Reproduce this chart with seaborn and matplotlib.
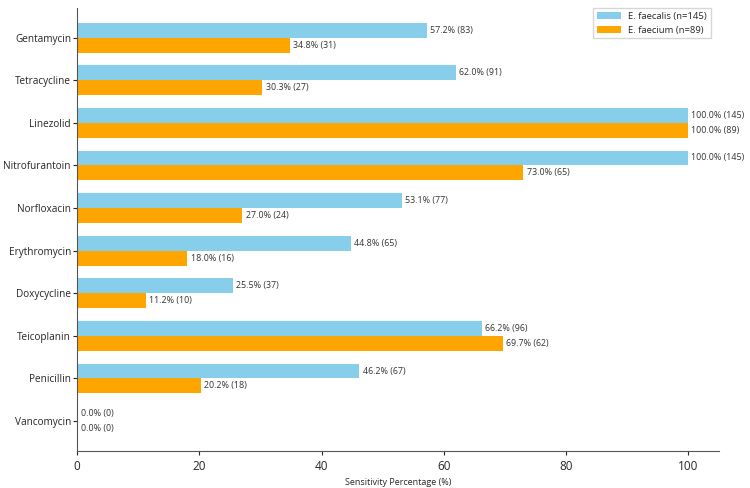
import numpy as np
import pandas as pd
import matplotlib
matplotlib.use('Agg')
import matplotlib.pyplot as plt
import seaborn as sns

# ===== data =====
antibiotics = ['Gentamycin', 'Tetracycline', 'Linezolid', 'Nitrofurantoin', 'Norfloxacin',
               'Erythromycin', 'Doxycycline', 'Teicoplanin', 'Penicillin', 'Vancomycin']
faecalis_pct = [57.2, 62.0, 100.0, 100.0, 53.1, 44.8, 25.5, 66.2, 46.2, 0.0]
faecalis_n = [83, 91, 145, 145, 77, 65, 37, 96, 67, 0]
faecium_pct = [34.8, 30.3, 100.0, 73.0, 27.0, 18.0, 11.2, 69.7, 20.2, 0.0]
faecium_n = [31, 27, 89, 65, 24, 16, 10, 62, 18, 0]
groups = ['E. faecalis (n=145)', 'E. faecium (n=89)']

df = pd.DataFrame({
    'antibiotic': antibiotics * 2,
    'pct': faecalis_pct + faecium_pct,
    'n': faecalis_n + faecium_n,
    'group': [groups[0]] * len(antibiotics) + [groups[1]] * len(antibiotics),
})

sns.set_style('white')
plt.rcParams['font.family'] = ['Open Sans', 'DejaVu Sans']

fig, ax = plt.subplots(figsize=(7.5, 4.88), dpi=100)
sns.barplot(data=df, y='antibiotic', x='pct', hue='group', orient='h',
            palette=['skyblue', 'orange'], width=0.7, ax=ax, saturation=1,
            linewidth=0)

# value labels
for cont, pcts, ns in zip(ax.containers, [faecalis_pct, faecium_pct], [faecalis_n, faecium_n]):
    labels = [f'{p:.1f}% ({n})' for p, n in zip(pcts, ns)]
    ax.bar_label(cont, labels=labels, padding=2.5, fontsize=6.4, color='#333333')

ax.set_xlim(0, 105)
ax.set_ylim(9.7, -0.7)
ax.set_xlabel('Sensitivity Percentage (%)', fontsize=6.5)
ax.set_ylabel('')
ax.tick_params(axis='y', labelsize=7.2, length=3, left=True, pad=1.5)
ax.tick_params(axis='x', labelsize=8.5, length=3, bottom=True)
sns.despine(ax=ax)
for s in ['left', 'bottom']:
    ax.spines[s].set_color('#555555')
    ax.spines[s].set_linewidth(0.8)

ax.legend(loc='upper right', bbox_to_anchor=(0.995, 1.01), fontsize=6.8,
          frameon=True, fancybox=False, edgecolor='#cccccc', handlelength=2.5)

plt.subplots_adjust(left=0.103, right=0.958, top=0.984, bottom=0.076)
plt.savefig('out.png', dpi=100)
